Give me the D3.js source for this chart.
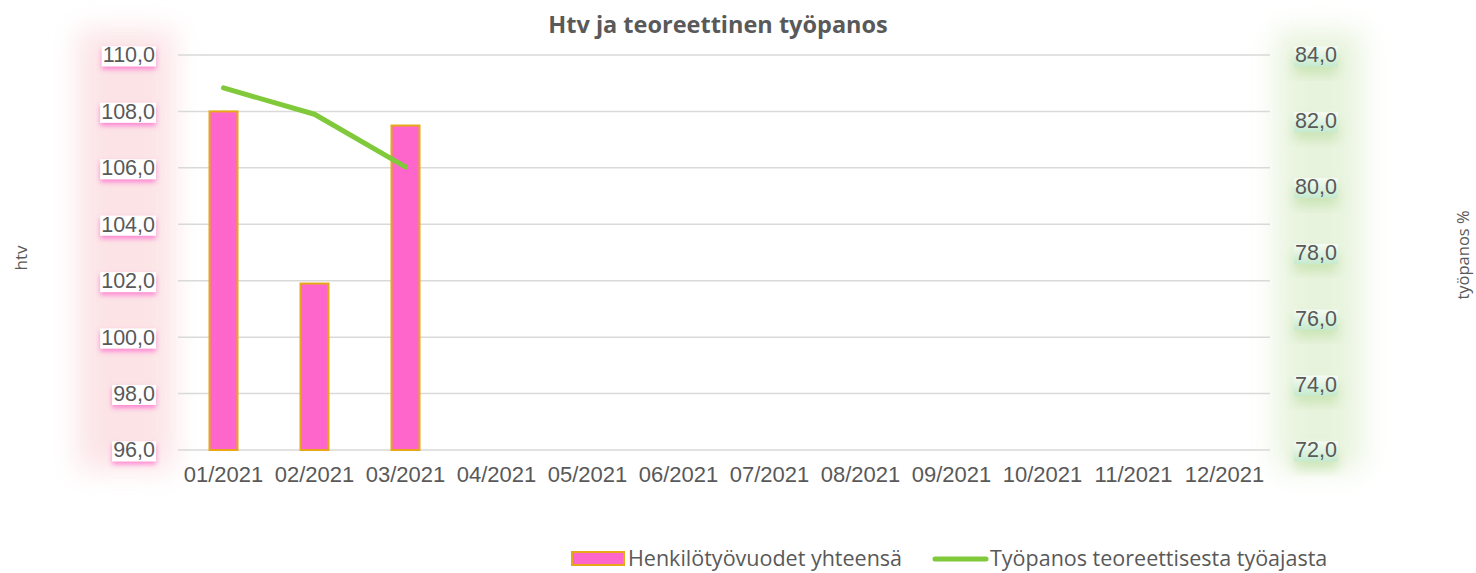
<!DOCTYPE html>
<html>
<head>
<meta charset="utf-8">
<script src="https://cdn.jsdelivr.net/npm/d3@7/dist/d3.min.js"></script>
<style>
 body { margin: 0; background: #fff; }
 svg { display: block; font-family: "Open Sans", "Noto Sans", sans-serif; }
 .tick text { fill: #595959; }
</style>
</head>
<body>
<svg id="chart" width="1476" height="573"></svg>
<script>
var months = ["01/2021","02/2021","03/2021","04/2021","05/2021","06/2021",
              "07/2021","08/2021","09/2021","10/2021","11/2021","12/2021"];
var htv = [108.0, 101.9, 107.5];          // Henkilötyövuodet yhteensä
var tyopanos = [83.0, 82.2, 80.6];         // Työpanos teoreettisesta työajasta
var leftTicks = [96, 98, 100, 102, 104, 106, 108, 110];
var rightTicks = [72, 74, 76, 78, 80, 82, 84];

var svg = d3.select("#chart");
var margin = {top: 55, right: 206, bottom: 123, left: 178};
var W = 1476, H = 573;
var x0 = margin.left, x1 = W - margin.right;
var y0 = H - margin.bottom, y1 = margin.top;

var x = d3.scaleBand().domain(months).range([x0, x1]);
var yL = d3.scaleLinear().domain([96, 110]).range([y0, y1]);
var yR = d3.scaleLinear().domain([72, 84]).range([y0, y1]);

var defs = svg.append("defs");
defs.append("filter").attr("id", "soft").attr("x", "-50%").attr("y", "-20%")
    .attr("width", "200%").attr("height", "140%")
    .append("feGaussianBlur").attr("stdDeviation", 14);
var sh = defs.append("filter").attr("id", "pinkshadow").attr("x", "-30%").attr("y", "-30%")
    .attr("width", "160%").attr("height", "180%");
sh.append("feDropShadow").attr("dx", 0).attr("dy", 3).attr("stdDeviation", 2.5)
  .attr("flood-color", "#ff66cc").attr("flood-opacity", 0.75);
var gs = defs.append("filter").attr("id", "greenshadow").attr("x", "-30%").attr("y", "-30%")
    .attr("width", "160%").attr("height", "200%");
gs.append("feDropShadow").attr("dx", 0).attr("dy", 8).attr("stdDeviation", 6)
  .attr("flood-color", "#b9dc9c").attr("flood-opacity", 0.6);
var gg = defs.append("linearGradient").attr("id", "greengrad").attr("x1", 0).attr("y1", 0).attr("x2", 0).attr("y2", 1);
gg.append("stop").attr("offset", "0%").attr("stop-color", "#f6fbf3");
gg.append("stop").attr("offset", "100%").attr("stop-color", "#c5eacf");

// soft glow areas behind axes
svg.append("rect").attr("x", 78).attr("y", 30).attr("width", 96).attr("height", 440)
   .attr("fill", "#fbdde0").attr("opacity", 0.8).attr("filter", "url(#soft)");
svg.append("rect").attr("x", 1276).attr("y", 30).attr("width", 86).attr("height", 440)
   .attr("fill", "#e3f1d6").attr("opacity", 0.8).attr("filter", "url(#soft)");

// gridlines
svg.append("g").selectAll("line").data(leftTicks).join("line")
   .attr("x1", x0).attr("x2", x1)
   .attr("y1", function(d){ return yL(d); }).attr("y2", function(d){ return yL(d); })
   .attr("stroke", "#d9d9d9").attr("stroke-width", 1.5);

var fmt = function(d){ return d3.format(".1f")(d).replace(".", ","); };

// left axis labels
var la = svg.append("g").attr("transform", "translate(" + (x0 - 23) + ",0)")
   .call(d3.axisLeft(yL).tickValues(leftTicks).tickFormat(fmt).tickSize(0).tickPadding(0));
la.select(".domain").remove();
la.selectAll(".tick text").attr("font-size", 21.5);
la.selectAll(".tick").each(function(){
  var t = d3.select(this).select("text");
  var b = t.node().getBBox();
  d3.select(this).insert("rect", "text")
    .attr("x", b.x - 1).attr("y", b.y + 3).attr("width", b.width + 2).attr("height", b.height - 4)
    .attr("fill", "#fff").attr("filter", "url(#pinkshadow)");
});

// right axis labels
var ra = svg.append("g").attr("transform", "translate(" + (x1 + 25) + ",0)")
   .call(d3.axisRight(yR).tickValues(rightTicks).tickFormat(fmt).tickSize(0).tickPadding(0));
ra.select(".domain").remove();
ra.selectAll(".tick text").attr("font-size", 21.5);
ra.selectAll(".tick").each(function(){
  var t = d3.select(this).select("text");
  var b = t.node().getBBox();
  d3.select(this).insert("rect", "text")
    .attr("x", b.x - 1).attr("y", b.y + 3).attr("width", b.width + 2).attr("height", b.height - 4)
    .attr("fill", "url(#greengrad)").attr("filter", "url(#greenshadow)");
});

// x axis labels
var xa = svg.append("g").attr("transform", "translate(0," + (y0 + 12) + ")")
   .call(d3.axisBottom(x).tickSize(0).tickPadding(0));
xa.select(".domain").remove();
xa.selectAll(".tick text").attr("font-size", 22).attr("dy", "0.9em");

// bars
var bw = 28;
svg.append("g").selectAll("rect").data(htv).join("rect")
   .attr("x", function(d, i){ return x(months[i]) + x.bandwidth() / 2 - bw / 2; })
   .attr("y", function(d){ return yL(d); })
   .attr("width", bw)
   .attr("height", function(d){ return yL(96) - yL(d); })
   .attr("fill", "#ff66cc").attr("stroke", "#e6a817").attr("stroke-width", 2);

// line
var line = d3.line()
   .x(function(d, i){ return x(months[i]) + x.bandwidth() / 2; })
   .y(function(d){ return yR(d); });
svg.append("path").datum(tyopanos).attr("d", line)
   .attr("fill", "none").attr("stroke", "#7fc93a").attr("stroke-width", 5)
   .attr("stroke-linecap", "round").attr("stroke-linejoin", "round");

// title
svg.append("text").attr("x", 718).attr("y", 33).attr("text-anchor", "middle")
   .attr("font-size", 23.5).attr("font-weight", "bold").attr("fill", "#595959")
   .text("Htv ja teoreettinen työpanos");

// axis titles
svg.append("text").attr("transform", "translate(27,258) rotate(-90)")
   .attr("text-anchor", "middle").attr("font-size", 17).attr("fill", "#595959").text("htv");
svg.append("text").attr("transform", "translate(1469,255) rotate(-90)")
   .attr("text-anchor", "middle").attr("font-size", 16.5).attr("fill", "#595959").text("työpanos %");

// legend
var lg = svg.append("g");
lg.append("rect").attr("x", 572).attr("y", 552).attr("width", 52).attr("height", 13)
  .attr("fill", "#ff66cc").attr("stroke", "#e6a817").attr("stroke-width", 2);
lg.append("text").attr("x", 628).attr("y", 566).attr("font-size", 21.5).attr("fill", "#595959")
  .text("Henkilötyövuodet yhteensä");
lg.append("line").attr("x1", 935).attr("x2", 986).attr("y1", 559).attr("y2", 559)
  .attr("stroke", "#7fc93a").attr("stroke-width", 5).attr("stroke-linecap", "round");
lg.append("text").attr("x", 990).attr("y", 566).attr("font-size", 21.5).attr("fill", "#595959")
  .text("Työpanos teoreettisesta työajasta");
</script>
</body>
</html>
